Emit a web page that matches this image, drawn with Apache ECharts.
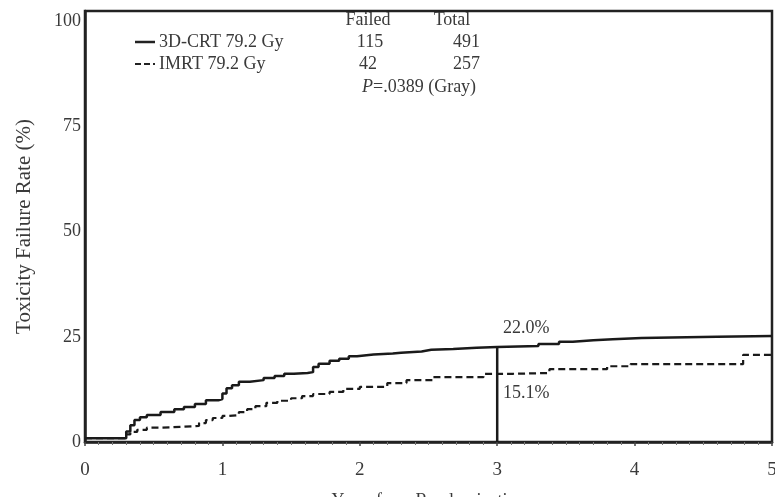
<!DOCTYPE html>
<html><head><meta charset="utf-8">
<script src="https://cdn.jsdelivr.net/npm/echarts@6/dist/echarts.min.js"></script>
<style>html,body{margin:0;padding:0;background:#fff}#c{width:775px;height:497px}</style>
</head><body><div id="c"></div>
<script>
// 3D-CRT 79.2 Gy (solid) : [years, failure %]
const crtTimes = [0,0.28,0.30,0.33,0.36,0.40,0.45,0.55,0.65,0.72,0.80,0.88,0.97,1.00,1.03,1.07,1.12,1.20,1.30,1.38,1.45,1.52,1.62,1.66,1.70,1.78,1.85,1.92,1.98,2.10,2.24,2.30,2.45,2.52,2.68,2.85,3.00,3.30,3.45,3.55,3.70,3.84,4.05,4.60,5.00];
const crtValues = [0.9,0.9,2.5,4.0,5.2,5.9,6.4,7.1,7.8,8.3,9.0,9.9,10.2,11.5,12.8,13.5,14.3,14.7,15.2,15.7,16.2,16.4,16.6,17.8,18.6,19.3,19.8,20.4,20.8,21.0,21.2,21.5,21.9,22.1,22.4,22.6,22.8,23.3,23.8,24.2,24.4,24.7,25.0,25.2,25.2];
// IMRT 79.2 Gy (dashed)
const imrtTimes = [0,0.28,0.30,0.33,0.38,0.45,0.55,0.83,0.88,0.93,1.00,1.05,1.12,1.18,1.24,1.32,1.40,1.50,1.58,1.66,1.78,1.88,2.00,2.20,2.34,2.53,2.90,3.11,3.38,3.80,3.97,4.79,5.00];
const imrtValues = [0.9,0.9,1.8,2.4,2.9,3.4,3.8,4.5,5.2,5.7,6.2,6.4,7.1,7.8,8.5,9.3,9.8,10.4,10.9,11.4,11.9,12.6,13.1,14.0,14.7,15.4,16.2,16.4,17.3,18.0,18.5,20.7,20.7];
const markTime = 3;
const crtAt3Label = '22.0%';
const imrtAt3Label = '15.1%';
const legendNames = ['3D-CRT 79.2 Gy','IMRT 79.2 Gy'];
const failed = ['115','42'];
const total = ['491','257'];
const pText = '.0389 (Gray)';
const yTicks = [0,25,50,75,100];
const xTicks = [0,1,2,3,4,5];

const font = 'Liberation Serif, DejaVu Serif, serif';
const tc = '#3a3a3a';
const crtData = crtTimes.map((t,i)=>[t,crtValues[i]]);
const imrtData = imrtTimes.map((t,i)=>[t,imrtValues[i]]);
const crtAt3 = crtValues[crtTimes.indexOf(markTime)];

const chart = echarts.init(document.getElementById('c'));
chart.setOption({
  animation:false,
  backgroundColor:'#fff',
  grid:{left:85,right:3,top:11,bottom:55,outerBoundsMode:'none',containLabel:false,show:true,borderColor:'#222',borderWidth:2.5,backgroundColor:'transparent'},
  xAxis:{type:'value',min:xTicks[0],max:xTicks[xTicks.length-1],interval:1,
    name:'Years from Randomization',nameLocation:'middle',nameGap:50,
    nameTextStyle:{fontFamily:font,fontSize:18,color:tc,verticalAlign:'top'},
    axisLine:{show:true,lineStyle:{color:'#222',width:2.5}},
    axisTick:{show:true,inside:false,length:4,lineStyle:{color:'#444',width:1.5}},
    minorTick:{show:true,splitNumber:10,length:3,lineStyle:{color:'#777'}},
    splitLine:{show:false},
    axisLabel:{fontFamily:font,fontSize:19,color:tc,margin:19}},
  yAxis:{type:'value',min:0,max:102.4,interval:25,
    name:'Toxicity Failure Rate (%)',nameLocation:'middle',nameGap:50,
    nameTextStyle:{fontFamily:font,fontSize:21,color:tc},
    axisLine:{show:true,lineStyle:{color:'#222',width:2.5}},
    axisTick:{show:false},splitLine:{show:false},
    axisLabel:{fontFamily:font,fontSize:18,color:tc,margin:4,showMaxLabel:false,
      formatter:v=>yTicks.includes(v)?String(v):''}},
  series:[
    {type:'line',name:legendNames[0],data:crtData,step:'end',symbol:'none',
      lineStyle:{color:'#1a1a1a',width:2.5}},
    {type:'line',name:legendNames[1],data:imrtData,step:'end',symbol:'none',
      lineStyle:{color:'#1a1a1a',width:2.2,type:[7,4]}},
    {type:'line',data:[[markTime,0],[markTime,crtAt3]],symbol:'none',
      lineStyle:{color:'#1a1a1a',width:2.5}}
  ],
  graphic:[
    {type:'line',shape:{x1:135,y1:42,x2:155,y2:42},style:{stroke:'#222',lineWidth:2.5}},
    {type:'line',shape:{x1:135,y1:64,x2:155,y2:64},style:{stroke:'#222',lineWidth:2,lineDash:[6,3]}},
    {type:'text',x:159,y:42,style:{text:legendNames[0],font:'18px '+font,fill:tc,verticalAlign:'middle'}},
    {type:'text',x:159,y:64,style:{text:legendNames[1],font:'18px '+font,fill:tc,verticalAlign:'middle'}},
    {type:'text',x:368,y:20,style:{text:'Failed',font:'18px '+font,fill:tc,align:'center',verticalAlign:'middle'}},
    {type:'text',x:452,y:20,style:{text:'Total',font:'18px '+font,fill:tc,align:'center',verticalAlign:'middle'}},
    {type:'text',x:370,y:42,style:{text:failed[0],font:'18px '+font,fill:tc,align:'center',verticalAlign:'middle'}},
    {type:'text',x:480,y:42,style:{text:total[0],font:'18px '+font,fill:tc,align:'right',verticalAlign:'middle'}},
    {type:'text',x:368,y:64,style:{text:failed[1],font:'18px '+font,fill:tc,align:'center',verticalAlign:'middle'}},
    {type:'text',x:480,y:64,style:{text:total[1],font:'18px '+font,fill:tc,align:'right',verticalAlign:'middle'}},
    {type:'text',x:362,y:87,style:{text:'{i|P}='+pText,rich:{i:{fontStyle:'italic',font:'italic 18px '+font,fill:tc}},font:'18px '+font,fill:tc,verticalAlign:'middle'}},
    {type:'text',x:503,y:328,style:{text:crtAt3Label,font:'18px '+font,fill:tc,verticalAlign:'middle'}},
    {type:'text',x:503,y:393,style:{text:imrtAt3Label,font:'18px '+font,fill:tc,verticalAlign:'middle'}}
  ]
});
</script></body></html>
